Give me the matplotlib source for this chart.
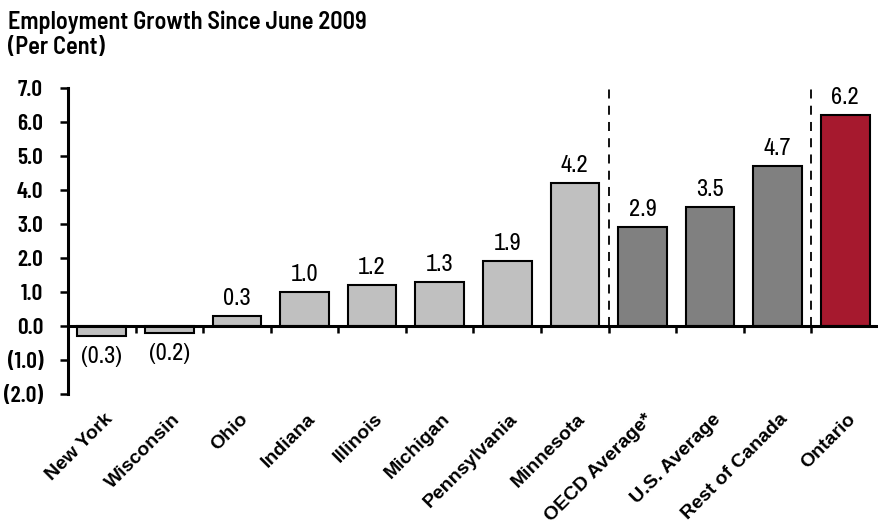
import matplotlib
matplotlib.use("Agg")
import matplotlib.pyplot as plt
import matplotlib.transforms as mtransforms
import numpy as np

# ── Data ─────────────────────────────────────────────────────────
categories = ["New York", "Wisconsin", "Ohio", "Indiana", "Illinois",
              "Michigan", "Pennsylvania", "Minnesota", "OECD Average*",
              "U.S. Average", "Rest of Canada", "Ontario"]
growth = [-0.3, -0.2, 0.3, 1.0, 1.2, 1.3, 1.9, 4.2, 2.9, 3.5, 4.7, 6.2]
value_labels = ["(0.3)", "(0.2)", "0.3", "1.0", "1.2", "1.3", "1.9",
                "4.2", "2.9", "3.5", "4.7", "6.2"]
groups = ["state"] * 8 + ["avg"] * 3 + ["ont"]
y_ticks = [-2, -1, 0, 1, 2, 3, 4, 5, 6, 7]
y_tick_labels = ["(2.0)", "(1.0)", "0.0", "1.0", "2.0", "3.0", "4.0",
                 "5.0", "6.0", "7.0"]
divider_after = [7, 10]   # dashed lines after Minnesota and Rest of Canada

COLORS = {"state": "#C0C0C0", "avg": "#808080", "ont": "#A6192E"}
TITLE_F = ["Barlow Semi Condensed", "DejaVu Sans"]
TICK_F = ["Barlow Condensed", "DejaVu Sans"]
NARROW = ["Archivo Narrow", "DejaVu Sans"]
BOLD = ["Liberation Sans", "DejaVu Sans"]

fig = plt.figure(figsize=(8.79, 5.32), dpi=100)
ax = fig.add_axes([68 / 879, (532 - 394) / 532, 1 - 68 / 879, (394 - 88) / 532])

x = np.arange(len(categories))
ax.bar(x, growth, width=0.72, color=[COLORS[g] for g in groups],
       edgecolor="black", linewidth=1.5, zorder=2)

for xi, v, lab in zip(x, growth, value_labels):
    if v >= 0:
        ax.annotate(lab, (xi, v), xytext=(0, 5), textcoords="offset points",
                    ha="center", va="bottom", fontsize=17.5, family=NARROW)
    else:
        ax.annotate(lab, (xi, v), xytext=(0, -7), textcoords="offset points",
                    ha="center", va="top", fontsize=17.5, family=NARROW)

# dashed separators
for d in divider_after:
    ax.plot([d + 0.5, d + 0.5], [0, 7], color="black", lw=1.3,
            ls=(0, (5, 4)), zorder=1)

# zero line with category boundary ticks
ax.axhline(0, color="black", lw=2.2, zorder=3)
ax.vlines(np.arange(0.5, len(categories) - 0.5), -0.2, 0,
          color="black", lw=1.8, zorder=3)

ax.set_xlim(-0.5, len(categories) - 0.5)
ax.set_ylim(-2, 7)
ax.set_yticks(y_ticks)
ax.set_yticklabels(y_tick_labels, family=TICK_F, fontsize=17,
                   fontweight="semibold")
ax.tick_params(axis="y", length=6, width=1.8, pad=12)

ax.set_xticks(x)
ax.set_xticklabels(categories, rotation=45, ha="right",
                   rotation_mode="anchor", family=BOLD,
                   fontweight="bold", fontsize=14)
ax.tick_params(axis="x", length=0, pad=12)
shift = mtransforms.ScaledTranslation(2 / 100, 0, fig.dpi_scale_trans)
for lbl in ax.get_xticklabels():
    lbl.set_transform(lbl.get_transform() + shift)

for s in ["top", "right", "bottom"]:
    ax.spines[s].set_visible(False)
ax.spines["left"].set_linewidth(2.2)

fig.text(8 / 879, 1 - 22 / 532, "Employment Growth Since June 2009",
         family=TITLE_F, fontsize=17.5, fontweight="semibold", va="center")
fig.text(8 / 879, 1 - 48 / 532, "(Per Cent)",
         family=TITLE_F, fontsize=17.5, fontweight="semibold", va="center")

fig.savefig("out.png", dpi=100)
